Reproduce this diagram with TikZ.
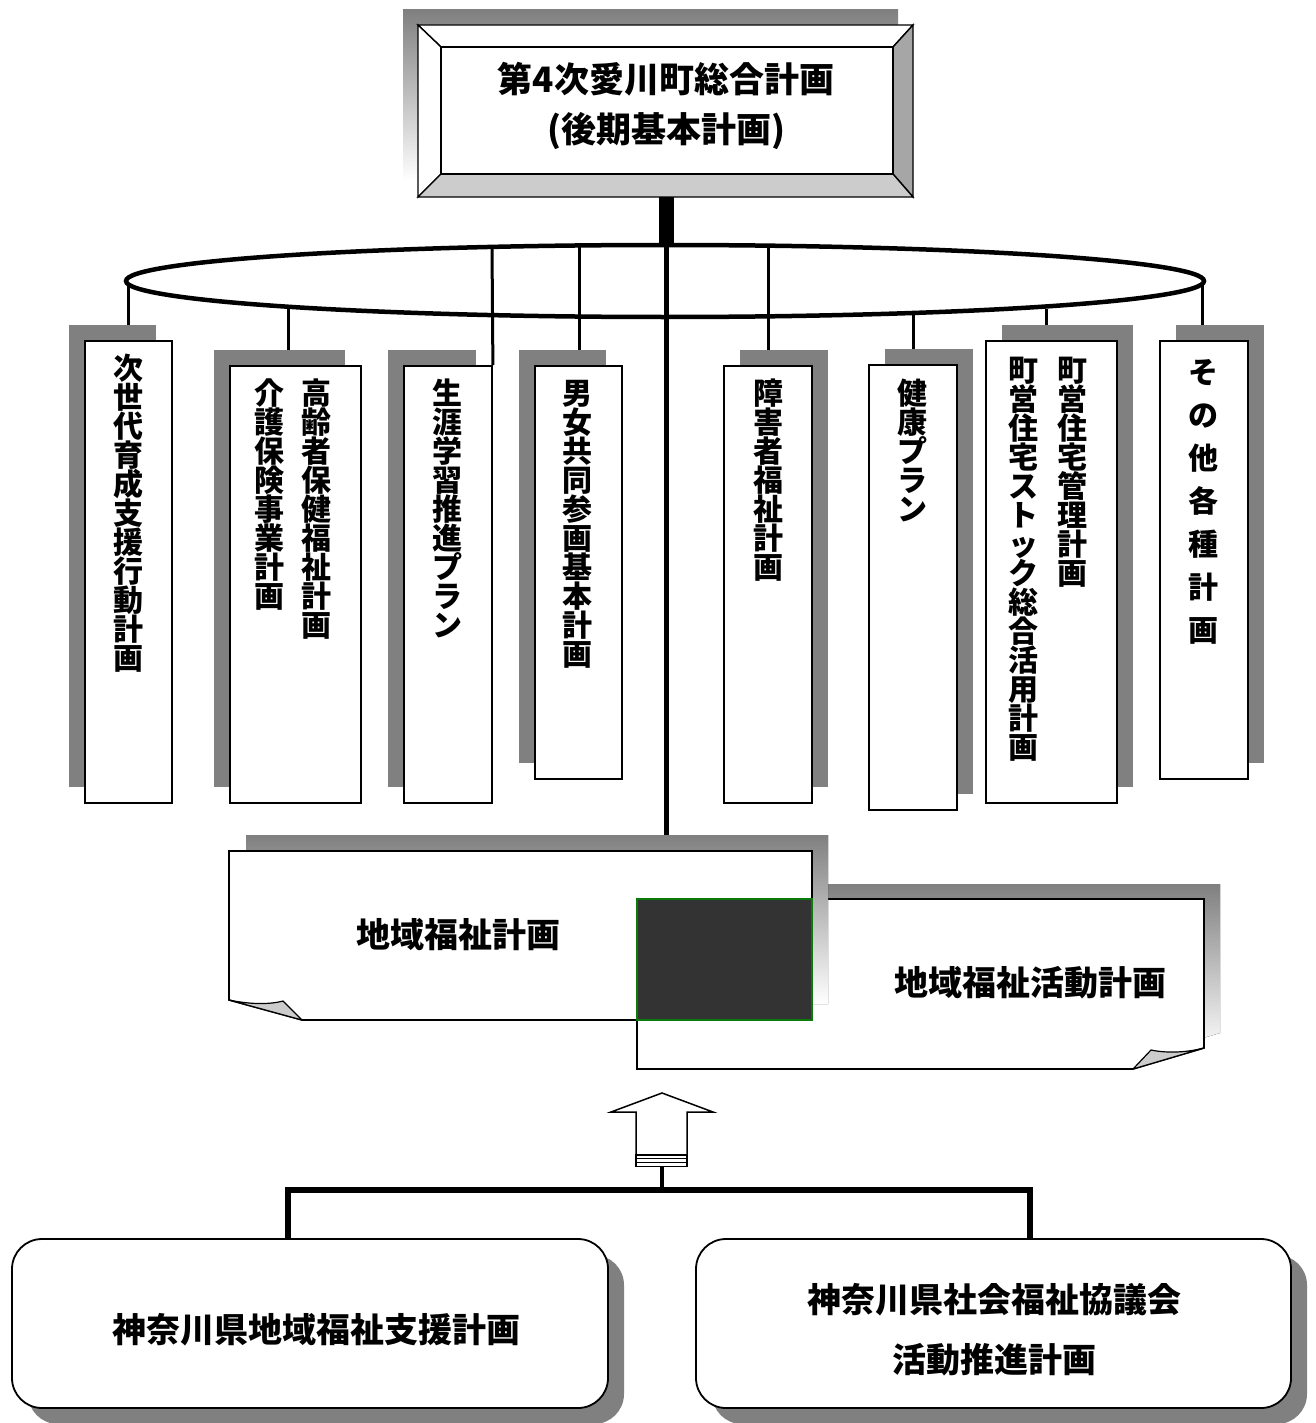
\documentclass[tikz,border=0pt]{standalone}
\usepackage{fontspec}
\setmainfont{Noto Sans CJK JP}
\usetikzlibrary{fit,calc}
\definecolor{shade}{HTML}{808080}
\definecolor{bevelR}{HTML}{A6A6A6}
\definecolor{bevelB}{HTML}{CCCCCC}
\definecolor{foldgray}{HTML}{CCCCCC}
\definecolor{overlap}{HTML}{333333}
\definecolor{overlapedge}{HTML}{0A7A0A}

% vertical (tategaki) text: one character per cell, cells #1 high
\makeatletter
\newcommand\tate[2][29pt]{\vbox{\offinterlineskip
  \@tfor\tch:=#2\do{\hbox to 1em{\hss\raisebox{0pt}[#1][0pt]{\tch}\hss}}}}
\makeatother

\begin{document}
\begin{tikzpicture}[x=1pt,y=-1pt,
  shadowbox/.style={fill=shade, draw=none, inner sep=0pt},
  planrect/.style={draw=black, line width=1.8pt, fill=white, inner sep=0pt},
  tatetext/.style={anchor=north, inner sep=0pt, font=\fontsize{30}{30}\selectfont\bfseries},
  bigtext/.style={inner sep=0pt, font=\fontsize{34}{34}\selectfont\bfseries},
  conn/.style={line width=3pt},
  trunk/.style={line width=5pt},
  ring/.style={line width=4.5pt},
  bus/.style={line width=5.5pt, line join=miter},
  sheet/.style={draw=black, line width=1.6pt, fill=white},
  fold/.style={draw=black, line width=1.2pt, fill=foldgray, line join=round},
  roundbox/.style={draw=black, line width=1.8pt, fill=white, rounded corners=30pt, inner sep=0pt},
  roundshadow/.style={fill=shade, draw=none, rounded corners=30pt, inner sep=0pt},
]
\useasboundingbox[fill=white] (0,0) rectangle (1316,1423);

% ---------- top: comprehensive plan (bevelled frame) ----------
\fill[shade] (403,10) rectangle (898,181);
\node[inner sep=0pt, fit={(418,25) (913,197)}] (top) {};
\begin{scope}[draw=black, line width=1.4pt, line join=miter]
  \filldraw[fill=white]  (418,25) -- (913,25) -- (893,47) -- (441,47) -- cycle;
  \filldraw[fill=white]  (418,25) -- (441,47) -- (441,174) -- (418,197) -- cycle;
  \filldraw[fill=bevelR] (913,25) -- (913,197) -- (893,174) -- (893,47) -- cycle;
  \filldraw[fill=bevelB] (418,197) -- (913,197) -- (893,174) -- (441,174) -- cycle;
  \filldraw[fill=white]  (441,47) rectangle (893,174);
\end{scope}
\node[align=center, inner sep=0pt, font=\fontsize{35}{50}\selectfont\bfseries]
  (title) at (666,106) {第4次愛川町総合計画\\(後期基本計画)};

% ---------- ring linking the individual plans ----------
\draw[ring] (665,281) ellipse [x radius=539, y radius=36];
\coordinate (ringtop) at (666,245);
\draw[line width=15pt] (top.south -| ringtop) -- (ringtop);

% ---------- individual plans ----------
% name, x1, y1, x2, y2, shadow x-offset
\newcommand\makeplan[6]{%
  \node[shadowbox, fit={(#2#6,#3-16) (#4#6,#5-16)}] (#1s) {};
  \node[planrect, fit={(#2,#3) (#4,#5)}] (#1) {};}

\makeplan{b1}{85}{341}{172}{803}{-16}
\makeplan{b2}{230}{366}{361}{803}{-16}
\makeplan{b3}{404}{366}{492}{803}{-16}
\makeplan{b4}{535}{366}{622}{779}{-16}
\makeplan{b5}{724}{366}{812}{803}{+16}
\makeplan{b6}{869}{365}{957}{810}{+16}
\makeplan{b7}{986}{341}{1117}{803}{+16}
\makeplan{b8}{1160}{341}{1248}{779}{+16}

\node[tatetext] (t1)  at (128,350)  {\tate{次世代育成支援行動計画}};
\node[tatetext] (t2a) at (316,375)  {\tate{高齢者保健福祉計画}};
\node[tatetext] (t2b) at (269,375)  {\tate{介護保険事業計画}};
\node[tatetext] (t3)  at (447,375)  {\tate{生涯学習推進プラン}};
\node[tatetext] (t4)  at (577,375)  {\tate{男女共同参画基本計画}};
\node[tatetext] (t5)  at (768,375)  {\tate{障害者福祉計画}};
\node[tatetext] (t6)  at (912,375)  {\tate{健康プラン}};
\node[tatetext] (t7a) at (1072,352) {\tate{町営住宅管理計画}};
\node[tatetext] (t7b) at (1023,352) {\tate{町営住宅ストック総合活用計画}};
\node[tatetext] (t8)  at (1203,340) {\tate[43pt]{その他各種計画}};

% points where the drop lines leave the ring
\coordinate (r1) at (128,284);
\coordinate (r2) at (288,309);
\coordinate (r3) at (492,247);
\coordinate (r4) at (579,246);
\coordinate (r5) at (768,246);
\coordinate (r6) at (913,315);
\coordinate (r7) at (1046,309);
\coordinate (r8) at (1202,284);

\draw[conn] (r1) -- (b1s.north -| r1);
\draw[conn] (r2) -- (b2s.north -| r2);
\draw[conn] (r3) -- (b3.north east);
\draw[conn] (r4) -- (b4s.north -| r4);
\draw[conn] (r5) -- (b5s.north -| r5);
\draw[conn] (r6) -- (b6s.north -| r6);
\draw[conn] (r7) -- (b7s.north -| r7);
\draw[conn] (r8) -- (b8s.north -| r8);

% ---------- community welfare plans (overlapping sheets) ----------
\coordinate (ashadowtop) at (666,835);
\draw[trunk] (ringtop) -- (ashadowtop);

% activity plan sheet, curled lower-right corner
\fill[shade] (653,884) -- (1220,884) -- (1220,1033) -- (1149,1054) -- (653,1054) -- cycle;
\draw[sheet] (637,899) -- (1204,899) -- (1204,1048) -- (1133,1069) -- (637,1069) -- cycle;
\draw[fold] (1204,1048) .. controls (1185,1053) and (1165,1053) .. (1151,1050) -- (1133,1069) -- cycle;
\node[bigtext] (actplan) at (1030,983) {地域福祉活動計画};

% community welfare plan sheet, curled lower-left corner
\fill[shade] (246,835) -- (828,835) -- (828,1004) -- (319,1004) -- (246,984) -- cycle;
\draw[sheet] (229,851) -- (812,851) -- (812,1020) -- (302,1020) -- (229,1000) -- cycle;
\draw[fold] (229,1000) .. controls (248,1004) and (268,1005) .. (283,1001) -- (302,1020) -- cycle;
\node[bigtext] (wplan) at (458,935) {地域福祉計画};

% shared part of the two plans
\draw[fill=overlap, draw=overlapedge, line width=1.5pt] (637,899) rectangle (812,1020);

% ---------- upward block arrow ----------
\draw[line width=1.5pt, fill=white, line join=miter]
  (662,1093) -- (713,1112) -- (687,1112) -- (687,1155) -- (636,1155) -- (636,1112) -- (611,1112) -- cycle;
\draw[line width=1.3pt, fill=white] (636,1155) rectangle (687,1166.5);
\draw[line width=1.1pt] (636,1158.5) -- (687,1158.5) (636,1162.5) -- (687,1162.5);
\coordinate (arrowfoot) at (662,1166.5);
\coordinate (busmid) at (662,1190);
\draw[line width=4.5pt] (arrowfoot) -- (busmid);

% ---------- prefecture-level plans ----------
\node[roundshadow, fit={(28,1255) (624,1424)}] (kps) {};
\node[roundbox, fit={(12,1239) (608,1408)}] (kp) {};
\node[bigtext] (kptext) at (316,1330) {神奈川県地域福祉支援計画};

\node[roundshadow, fit={(712,1255) (1307,1424)}] (kss) {};
\node[roundbox, fit={(696,1239) (1291,1408)}] (ks) {};
\node[bigtext, align=center, font=\fontsize{34}{60}\selectfont\bfseries]
  (kstext) at (994,1330) {神奈川県社会福祉協議会\\活動推進計画};

\coordinate (busL) at (288,1190);
\coordinate (busR) at (1030,1190);
\draw[bus] (kp.north -| busL) -- (busL) -- (busR) -- (ks.north -| busR);

\end{tikzpicture}
\end{document}
